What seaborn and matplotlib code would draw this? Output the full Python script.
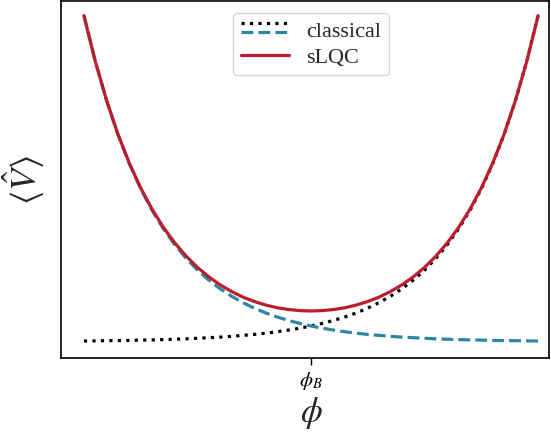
import numpy as np
import pandas as pd
import matplotlib
matplotlib.use("Agg")
import matplotlib.pyplot as plt
import seaborn as sns
from matplotlib.legend_handler import HandlerBase
from matplotlib.lines import Line2D

# ---- data (arbitrary units) ----
phi = [-1.00, -0.95, -0.90, -0.85, -0.80, -0.75, -0.70, -0.65, -0.60, -0.55,
       -0.50, -0.45, -0.40, -0.35, -0.30, -0.25, -0.20, -0.15, -0.10, -0.05,
       0.00, 0.05, 0.10, 0.15, 0.20, 0.25, 0.30, 0.35, 0.40, 0.45,
       0.50, 0.55, 0.60, 0.65, 0.70, 0.75, 0.80, 0.85, 0.90, 0.95, 1.00]

classical = [17.0, 17.1, 17.3, 17.4, 17.6, 17.9, 18.1, 18.4, 18.8, 19.2,
             19.7, 20.3, 20.9, 21.7, 22.6, 23.6, 24.8, 26.2, 27.9, 29.8,
             32.0, 34.6, 37.6, 41.1, 45.1, 49.9, 55.4, 61.8, 69.2, 77.9,
             87.9, 99.7, 113.3, 129.2, 147.7, 169.2, 194.2, 223.3, 257.2, 296.6, 342.4]

quantum = [342.4, 296.6, 257.2, 223.3, 194.2, 169.2, 147.7, 129.2, 113.3, 99.7,
           87.9, 77.9, 69.2, 61.8, 55.4, 49.9, 45.1, 41.1, 37.6, 34.6,
           32.0, 29.8, 27.9, 26.2, 24.8, 23.6, 22.6, 21.7, 20.9, 20.3,
           19.7, 19.2, 18.8, 18.4, 18.1, 17.9, 17.6, 17.4, 17.3, 17.1, 17.0]

slqc = [342.4, 296.7, 257.4, 223.7, 194.8, 170.0, 148.8, 130.6, 115.1, 101.9,
        90.6, 81.1, 73.1, 66.5, 60.9, 56.5, 53.0, 50.3, 48.5, 47.4,
        47.0, 47.4, 48.5, 50.3, 53.0, 56.5, 60.9, 66.5, 73.1, 81.1,
        90.6, 101.9, 115.1, 130.6, 148.8, 170.0, 194.8, 223.7, 257.4, 296.7, 342.4]

xtick_pos = [0.0]
xtick_labels = [r"$\phi_B$"]

df = pd.DataFrame({"phi": phi, "classical": classical, "quantum": quantum, "sLQC": slqc})

sns.set_style("ticks")
plt.rcParams["font.family"] = ["Liberation Serif", "DejaVu Serif"]
plt.rcParams["mathtext.fontset"] = "stix"

fig = plt.figure(figsize=(5.51, 4.32), dpi=100)
ax = fig.add_axes([0.1107, 0.1713, 0.8857, 0.8264])

lw = 2.3
red = "#bb1e2d"
teal = "#2d87a0"
sns.lineplot(data=df, x="phi", y="classical", ax=ax, color="black", lw=lw,
             linestyle=":", sort=False)
sns.lineplot(data=df, x="phi", y="quantum", ax=ax, color=teal, lw=lw,
             linestyle="--", sort=False)
sns.lineplot(data=df, x="phi", y="sLQC", ax=ax, color=red, lw=lw,
             linestyle="-", sort=False)

ax.set_xlim(-1.101, 1.048)
ax.set_ylim(0, 357)
ax.set_xticks(xtick_pos)
ax.set_xticklabels(xtick_labels, fontsize=15)
ax.set_yticks([])
ax.tick_params(axis="x", length=5, width=1.0, direction="out", colors="black")
for s in ax.spines.values():
    s.set_color("black")
    s.set_linewidth(1.2)
    s.set_visible(True)

ax.set_xlabel(r"$\phi$", fontsize=25, labelpad=2, x=0.512)
ax.set_ylabel(r"$\langle \hat{V} \rangle$", fontsize=26, labelpad=10)


class StackedHandler(HandlerBase):
    def create_artists(self, legend, orig_handle, xdescent, ydescent,
                       width, height, fontsize, trans):
        yc = (height - ydescent) / 2.0
        l1 = Line2D([-xdescent, width - xdescent], [yc + 0.36 * height] * 2,
                    color="black", lw=lw, linestyle=":")
        l2 = Line2D([-xdescent, width - xdescent], [yc - 0.20 * height] * 2,
                    color=teal, lw=lw, linestyle="--")
        for l in (l1, l2):
            l.set_transform(trans)
        return [l1, l2]


h_classic = ("stack",)
h_red = Line2D([], [], color=red, lw=lw)
ax.legend([h_classic, h_red], ["classical", "sLQC"], loc="upper center",
          bbox_to_anchor=(0.512, 1.0),
          fontsize=16, handlelength=2.2, handletextpad=0.75,
          handler_map={tuple: StackedHandler()},
          frameon=True, borderaxespad=0.55, labelspacing=0.25, borderpad=0.35)

fig.savefig("out.png", dpi=100)
